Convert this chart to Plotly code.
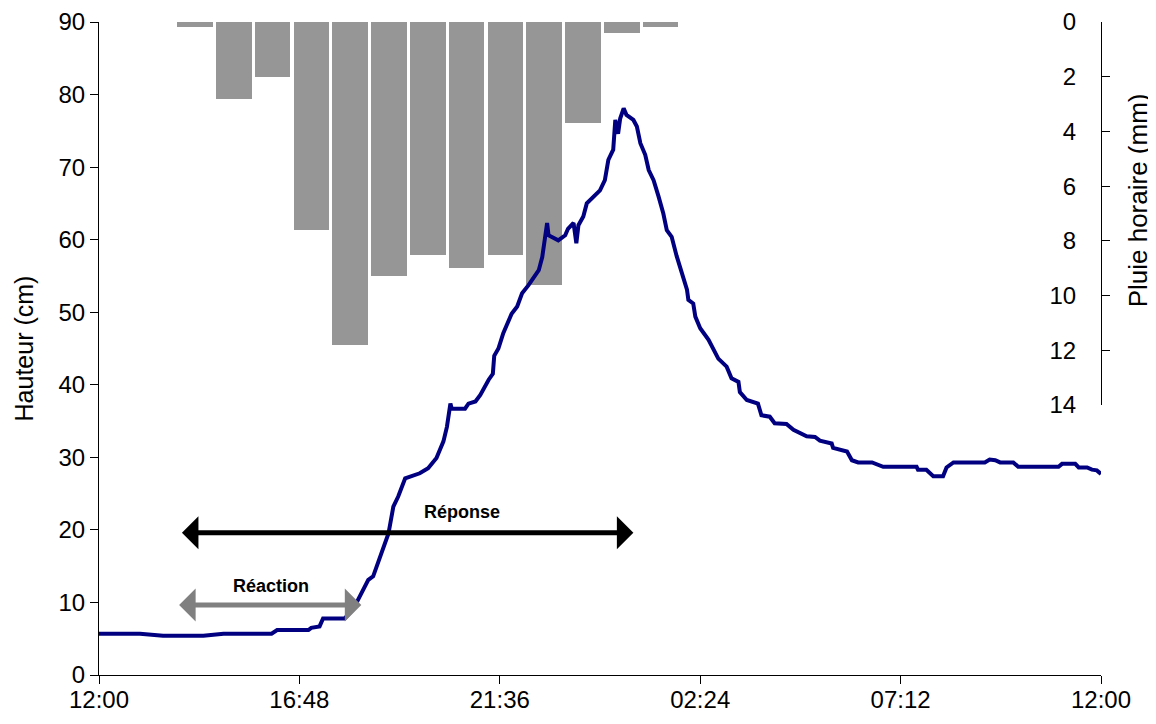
import plotly.graph_objects as go
import pandas as pd

# Hauteur d'eau (cm), relevés de 12:00 à 12:00 le lendemain
heure = [
    "12:00", "12:59", "13:32", "14:30", "14:59", "16:08", "16:16", "17:01",
    "17:05", "17:17", "17:22", "17:53", "18:05", "18:13", "18:20", "18:27",
    "18:34", "18:44", "18:56", "19:03", "19:10", "19:20", "19:41", "19:53",
    "20:05", "20:15", "20:20", "20:25", "20:27", "20:46", "20:51", "21:01",
    "21:08", "21:20", "21:26", "21:28", "21:34", "21:41", "21:53", "22:01",
    "22:08", "22:17", "22:25", "22:32", "22:37", "22:41", "22:44", "22:46",
    "23:00", "23:10", "23:14", "23:22", "23:26", "23:29", "23:36", "23:41",
    "23:50", "00:00", "00:07", "00:12", "00:19", "00:22", "00:26", "00:29",
    "00:34", "00:38", "00:48", "00:53", "00:58", "01:05", "01:10", "01:17",
    "01:24", "01:31", "01:36", "01:43", "01:50", "01:58", "02:05", "02:07",
    "02:14", "02:17", "02:24", "02:36", "02:43", "02:50", "03:02", "03:09",
    "03:19", "03:21", "03:31", "03:47", "03:52", "04:04", "04:11", "04:28",
    "04:38", "04:57", "05:09", "05:16", "05:33", "05:35", "05:55", "05:57",
    "06:02", "06:11", "06:31", "06:47", "07:35", "07:37", "07:49", "07:59",
    "08:13", "08:18", "08:28", "09:13", "09:20", "09:28", "09:35", "09:54",
    "10:01", "10:59", "11:04", "11:23", "11:28", "11:40", "11:47", "11:54",
    "12:00",
]
hauteur = [
    5.7, 5.7, 5.4, 5.4, 5.7, 5.7, 6.2, 6.2,
    6.5, 6.7, 7.8, 7.8, 9.0, 10.6, 11.8, 13.1,
    13.6, 16.3, 19.5, 23.2, 24.6, 27.1, 27.8, 28.5,
    29.9, 32.2, 34.2, 37.4, 36.7, 36.7, 37.4, 37.7,
    38.6, 40.7, 41.5, 44.0, 45.0, 47.1, 49.8, 50.8,
    52.6, 53.7, 54.9, 55.8, 57.6, 60.9, 62.3, 60.6,
    59.9, 60.6, 61.5, 62.3, 59.5, 62.0, 63.2, 65.0,
    65.9, 66.8, 68.2, 71.0, 72.4, 76.5, 74.6, 76.7,
    78.1, 77.2, 76.5, 75.6, 73.3, 71.7, 69.6, 68.2,
    66.0, 63.6, 61.3, 60.4, 57.8, 55.3, 53.1, 51.7,
    51.2, 49.4, 47.8, 46.2, 44.8, 43.6, 42.5, 40.9,
    40.4, 39.0, 37.9, 37.4, 35.8, 35.6, 34.7, 34.6,
    33.8, 32.9, 32.8, 32.3, 31.9, 31.3, 30.8, 30.5,
    29.6, 29.3, 29.3, 28.7, 28.7, 28.3, 28.3, 27.4,
    27.4, 28.6, 29.3, 29.3, 29.7, 29.6, 29.3, 29.3,
    28.7, 28.7, 29.1, 29.1, 28.6, 28.6, 28.3, 28.2,
    27.7,
]

# Pluie horaire (mm)
heure_pluie = ["14:00", "15:00", "16:00", "17:00", "18:00", "19:00", "20:00",
               "21:00", "22:00", "23:00", "00:00", "01:00", "02:00"]
pluie = [0.2, 2.8, 2.0, 7.6, 11.8, 9.3, 8.5, 9.0, 8.5, 9.6, 3.7, 0.4, 0.2]

x_ticks = ["12:00", "16:48", "21:36", "02:24", "07:12", "12:00"]

# flèches "Réaction" et "Réponse" (début, fin, hauteur)
reaction = ("13:53", "18:17", 9.65)
reponse = ("13:57", "00:48", 19.6)


def to_datetime(labels, start="2000-01-01"):
    """Convertit des heures HH:MM en dates, en passant au jour suivant après minuit"""
    out, day, prev = [], 0, None
    for lab in labels:
        h, m = map(int, lab.split(":"))
        minutes = h * 60 + m
        if prev is not None and minutes < prev:
            day += 1
        prev = minutes
        out.append(pd.Timestamp(start) + pd.Timedelta(days=day, minutes=minutes))
    return out


def on_day(lab):
    # avant midi = lendemain
    h, m = map(int, lab.split(":"))
    d = pd.Timestamp("2000-01-01") if h >= 12 else pd.Timestamp("2000-01-02")
    return d + pd.Timedelta(hours=h, minutes=m)


t = to_datetime(heure)
ticks = to_datetime(x_ticks)

font = "Liberation Sans, Arial, sans-serif"

fig = go.Figure()

# pluie : axe x (catégories, caché) / axe y (à droite, inversé)
fig.add_trace(go.Bar(
    x=heure_pluie, y=pluie,
    xaxis="x", yaxis="y",
    marker=dict(color="#969696", line=dict(width=0)),
    width=0.92,
    showlegend=False,
))

# hauteur : axe x2 (dates) / axe y2 (à gauche), dessiné par-dessus
fig.add_trace(go.Scatter(
    x=t, y=hauteur,
    xaxis="x2", yaxis="y2",
    mode="lines",
    line=dict(color="#000080", width=4),
    showlegend=False,
))

# flèches doubles
for (a, b, y), col in [(reponse, "black"), (reaction, "#808080")]:
    fig.add_annotation(
        x=on_day(b), y=y, ax=on_day(a), ay=y,
        xref="x2", yref="y2", axref="x2", ayref="y2",
        text="", showarrow=True, arrowside="end+start",
        arrowhead=1, arrowsize=1.1, arrowwidth=5, arrowcolor=col,
    )

fig.add_annotation(x=on_day("20:41"), y=22.4, xref="x2", yref="y2", text="<b>Réponse</b>",
                   showarrow=False, font=dict(size=18, color="black", family=font))
fig.add_annotation(x=on_day("16:07"), y=12.2, xref="x2", yref="y2", text="<b>Réaction</b>",
                   showarrow=False, font=dict(size=18, color="black", family=font))

# titres des axes
fig.add_annotation(x=-0.0749, y=0.5, xref="paper", yref="paper", text="Hauteur (cm)",
                   textangle=-90, showarrow=False, xanchor="center", yanchor="middle",
                   font=dict(size=25, color="black", family=font))
fig.add_annotation(x=1.037, y=0.727, xref="paper", yref="paper", text="Pluie horaire (mm)",
                   textangle=-90, showarrow=False, xanchor="center", yanchor="middle",
                   font=dict(size=26, color="black", family=font))

axis_style = dict(
    showgrid=False, zeroline=False,
    showline=True, linecolor="black", linewidth=1,
    tickcolor="black", ticklen=8,
    automargin=False,
)

# la page ajoute une marge de 8 px : la figure est décalée d'autant
fig.update_layout(
    width=1148, height=716,
    margin=dict(l=91, r=55, t=14, b=49),
    plot_bgcolor="rgba(0,0,0,0)", paper_bgcolor="white",
    font=dict(family=font, size=24, color="black"),
    xaxis=dict(
        type="category", range=[-2.474, 23.35],
        visible=False, anchor="y", domain=[0, 1],
    ),
    yaxis=dict(
        range=[14, 0], dtick=2, domain=[0.4135, 1],
        anchor="free", position=1.0, side="left",
        ticks="inside", ticklabelstandoff=20,
        **axis_style,
    ),
    xaxis2=dict(
        range=[ticks[0], ticks[-1]],
        tickvals=ticks, tickformat="%H:%M",
        anchor="y2", domain=[0, 1], ticks="outside",
        ticklabelstandoff=-5,
        **axis_style,
    ),
    yaxis2=dict(
        range=[0, 90], dtick=10,
        anchor="x2", side="left", domain=[0, 1], ticks="outside",
        **axis_style,
    ),
    bargap=0,
)

fig.write_html("out.html")
